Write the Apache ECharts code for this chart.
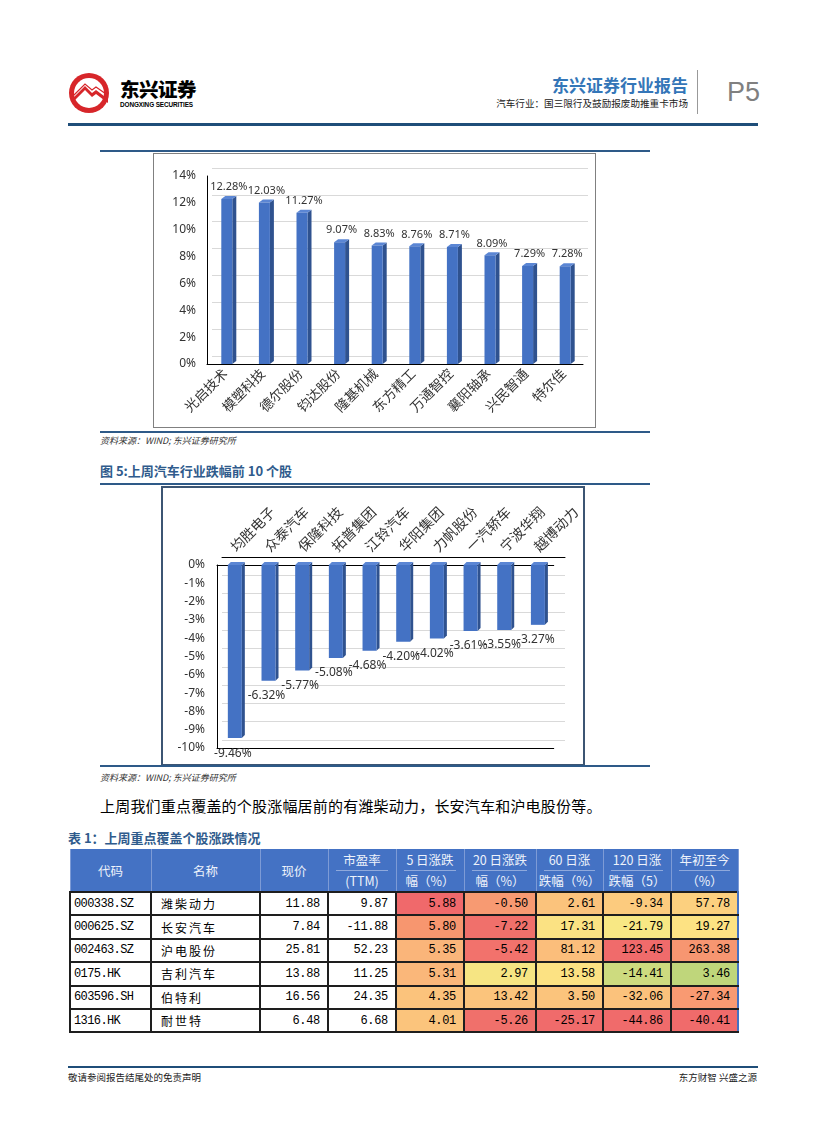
<!DOCTYPE html>
<html>
<head>
<meta charset="utf-8">
<script src="https://cdn.jsdelivr.net/npm/echarts@6/dist/echarts.min.js"></script>
<style>
  html,body{margin:0;padding:0;background:#fff;}
  body{width:827px;height:1122px;position:relative;overflow:hidden;font-family:'Noto Sans CJK SC','Noto Sans',sans-serif;color:#000;}
  .abs{position:absolute;white-space:nowrap;}
  .rule{position:absolute;background:#2e5a88;}
  .src{font-size:9px;font-style:italic;color:#333;line-height:12px;}
  .ttl{font-size:13px;font-weight:bold;color:#2f5b8c;line-height:16px;}
  table{border-collapse:collapse;table-layout:fixed;}
  th{background:#4472C4;color:#eef2fb;font-weight:normal;font-size:12.5px;padding:0;text-align:center;
     border-left:1px solid #7d9bd6;border-right:1px solid #7d9bd6;line-height:20px;}
  th.sub1{background:linear-gradient(#8fa9dc,#8fa9dc) no-repeat center bottom/78% 1px,#4472C4;}
  td{border:2px solid #1e1e1e;height:21.4px;padding:0;font-size:12px;}
  td.num{text-align:right;padding-right:7px;font-family:'Liberation Mono','DejaVu Sans Mono',monospace;letter-spacing:-0.3px;}
  td.code{text-align:left;padding-left:3px;font-family:'Liberation Mono','DejaVu Sans Mono',monospace;letter-spacing:-0.6px;}
  td.name{text-align:left;padding-left:9px;letter-spacing:2px;font-size:12px;}
</style>
</head>
<body>
<!-- header -->
<svg class="abs" style="left:68px;top:72px" width="44" height="44" viewBox="0 0 44 44">
  <circle cx="21" cy="21" r="20" fill="#d7262a"/>
  <circle cx="21" cy="21" r="15" fill="#fff"/>
  <path d="M4 27 L17 14 L24 21 L28 18 L40 27 L40 31 L28 22 L24 25 L17 18 L4 31 Z" fill="#d7262a"/>
  <path d="M6 23 L17 12 L24 18 L28 15 L38 22" stroke="#d7262a" stroke-width="1.2" fill="none"/>
</svg>
<div class="abs" style="left:120px;top:78px;font-size:19.5px;font-weight:900;line-height:22px;letter-spacing:-0.5px;">东兴证券</div>
<div class="abs" style="left:120px;top:101px;font-size:6.4px;font-weight:bold;line-height:8px;font-family:'Liberation Sans',sans-serif;letter-spacing:-0.1px;">DONGXING SECURITIES</div>
<div class="abs" style="right:139px;top:75px;font-size:17px;font-weight:bold;color:#3476b8;line-height:20px;">东兴证券行业报告</div>
<div class="abs" style="right:139px;top:97px;font-size:9.6px;line-height:12px;color:#222;">汽车行业：国三限行及鼓励报废助推重卡市场</div>
<div class="abs" style="left:697px;top:70px;width:1px;height:44px;background:#999;"></div>
<div class="abs" style="left:727px;top:76px;font-size:27px;line-height:32px;color:#808080;font-family:'Liberation Sans',sans-serif;">P5</div>
<div class="rule" style="left:68px;top:123px;width:690px;height:3px;background:#1f4e79;"></div>

<!-- figure 4 -->
<div class="rule" style="left:100px;top:150px;width:550px;height:2px;"></div>
<div id="c1" class="abs" style="left:153px;top:153px;width:443px;height:275px;border:1px solid #808080;box-sizing:border-box;"></div>
<div class="rule" style="left:100px;top:431px;width:550px;height:2px;"></div>
<div class="abs src" style="left:100px;top:435px;">资料来源：WIND; 东兴证券研究所</div>

<!-- figure 5 -->
<div class="abs ttl" style="left:100px;top:463px;">图 5:上周汽车行业跌幅前 10 个股</div>
<div class="rule" style="left:100px;top:483px;width:550px;height:2px;"></div>
<div id="c2" class="abs" style="left:161px;top:486px;width:424px;height:280px;border:2px solid #3c5573;box-sizing:border-box;"></div>
<div class="rule" style="left:100px;top:765px;width:550px;height:2px;"></div>
<div class="abs src" style="left:100px;top:772px;">资料来源：WIND; 东兴证券研究所</div>

<div class="abs" style="left:100px;top:796px;font-size:15px;line-height:20px;letter-spacing:0.2px;">上周我们重点覆盖的个股涨幅居前的有潍柴动力，长安汽车和沪电股份等。</div>

<div class="abs ttl" style="left:68px;top:830px;">表 1：上周重点覆盖个股涨跌情况</div>
<div id="tbl" class="abs" style="left:69px;top:849px;"></div>

<!-- footer -->
<div class="rule" style="left:68px;top:1066px;width:690px;height:2px;background:#1f4e79;"></div>
<div class="abs" style="left:68px;top:1071px;font-size:9.5px;line-height:12px;color:#222;">敬请参阅报告结尾处的免责声明</div>
<div class="abs" style="right:70px;top:1071px;font-size:9.5px;line-height:12px;color:#222;">东方财智 兴盛之源</div>

<script>
// ---------- data ----------
const cats1 = ['光启技术','模塑科技','德尔股份','钧达股份','隆基机械','东方精工','万通智控','襄阳轴承','兴民智通','特尔佳'];
const vals1 = [12.28, 12.03, 11.27, 9.07, 8.83, 8.76, 8.71, 8.09, 7.29, 7.28];
const yTicks1 = [0, 2, 4, 6, 8, 10, 12, 14];

const cats2 = ['均胜电子','众泰汽车','保隆科技','拓普集团','江铃汽车','华阳集团','力帆股份','一汽轿车','宁波华翔','越博动力'];
const vals2 = [-9.46, -6.32, -5.77, -5.08, -4.68, -4.20, -4.02, -3.61, -3.55, -3.27];
const yTicks2 = [0, -1, -2, -3, -4, -5, -6, -7, -8, -9, -10];

const headRow1 = ['代码','名称','现价','市盈率','5 日涨跌','20 日涨跌','60 日涨','120 日涨','年初至今'];
const headRow2 = ['(TTM)','幅（%）','幅（%）','跌幅（%）','跌幅（5）','（%）'];
const codes  = ['000338.SZ','000625.SZ','002463.SZ','0175.HK','603596.SH','1316.HK'];
const names  = ['潍柴动力','长安汽车','沪电股份','吉利汽车','伯特利','耐世特'];
const prices = ['11.88','7.84','25.81','13.88','16.56','6.48'];
const pes    = ['9.87','-11.88','52.23','11.25','24.35','6.68'];
const chg5   = ['5.88','5.80','5.35','5.31','4.35','4.01'];
const chg20  = ['-0.50','-7.22','-5.42','2.97','13.42','-5.26'];
const chg60  = ['2.61','17.31','81.12','13.58','3.50','-25.17'];
const chg120 = ['-9.34','-21.79','123.45','-14.41','-32.06','-44.86'];
const chgYtd = ['57.78','19.27','263.38','3.46','-27.34','-40.41'];

// conditional-format fills (style)
const cellFills = [
  ['#F0696B','#F79A72','#FBC37C','#FCCB7E','#FCD07F'],
  ['#F7966F','#F0706B','#FBE283','#F8E884','#FDE283'],
  ['#FAB57A','#F2726C','#FBBE7B','#F06B6B','#F79671'],
  ['#FAB77A','#F6E583','#FCE283','#CDDB7F','#BFD67B'],
  ['#FBC37C','#FBC47C','#FBC47C','#FBC27C','#F99A72'],
  ['#FBC47C','#F0706B','#F06B6B','#F06B6B','#F06B6B']
];

// ---------- table ----------
(function(){
  const widths = [81,109,68,68,68,72,67,68,67];
  let h = '<table><colgroup>' + widths.map(w=>'<col style="width:'+w+'px">').join('') + '</colgroup>';
  h += '<tr style="height:22px">';
  headRow1.forEach((t,i)=>{
    if(i<3) h += '<th rowspan="2" style="line-height:41px">'+t+'</th>';
    else h += '<th class="sub1">'+t+'</th>';
  });
  h += '</tr><tr style="height:21px">' + headRow2.map(t=>'<th>'+t+'</th>').join('') + '</tr>';
  for(let r=0;r<codes.length;r++){
    const chg=[chg5[r],chg20[r],chg60[r],chg120[r],chgYtd[r]];
    h += '<tr>';
    h += '<td class="code">'+codes[r]+'</td><td class="name">'+names[r]+'</td>';
    h += '<td class="num">'+prices[r]+'</td><td class="num">'+pes[r]+'</td>';
    chg.forEach((v,c)=>{
      const extra = c===4 ? 'border-right:2px solid #4472C4;' : '';
      h += '<td class="num" style="background:'+cellFills[r][c]+';'+extra+'">'+v+'</td>';
    });
    h += '</tr>';
  }
  h += '</table>';
  document.getElementById('tbl').innerHTML = h;
})();

// ---------- charts ----------
const FONT = "'Noto Sans','Noto Sans CJK SC',sans-serif";
const pct = v => v + '%';

function makeBar3D(opt){
  return function(params, api){
    const i = api.value(0), v = api.value(1);
    const p0 = api.coord([i, 0]);
    const p1 = api.coord([i, v]);
    const w = opt.w, d = opt.d, dy = opt.dy;
    const x0 = p0[0] - w/2 + opt.shift, x1 = x0 + w;
    const yTop = Math.min(p0[1], p1[1]), yBot = Math.max(p0[1], p1[1]);
    const label = v.toFixed(2) + '%';
    const lx = p0[0] + opt.lx;
    const ly = v >= 0 ? yTop + opt.ly : yBot + opt.ly;
    return {type:'group', children:[
      {type:'polygon', shape:{points:[[x1,yTop],[x1+d,yTop-dy],[x1+d,yBot-dy],[x1,yBot]]}, style:{fill:'#2F528F'}},
      {type:'polygon', shape:{points:[[x0,yTop],[x0+d,yTop-dy],[x1+d,yTop-dy],[x1,yTop]]}, style:{fill:'#5B86D4'}},
      {type:'rect', shape:{x:x0, y:yTop, width:w, height:yBot-yTop}, style:{fill:'#4472C4'}},
      {type:'text', z2:10, style:{text:label, x:lx, y:ly, fill:'#333', fontSize:opt.fs, fontFamily:FONT, align:'center', verticalAlign:'middle'}}
    ]};
  };
}

const c1 = echarts.init(document.getElementById('c1'));
c1.setOption({
  animation:false,
  textStyle:{fontFamily:FONT},
  grid:[{left:53, top:22, width:376, height:188}, {left:58, top:14, width:376, height:188}],
  xAxis:[
    {gridIndex:0, type:'category', data:cats1, axisLine:{lineStyle:{color:'#000', width:1}}, axisTick:{show:false},
     axisLabel:{rotate:45, interval:0, fontSize:13.5, color:'#333', margin:8, fontFamily:FONT}},
    {gridIndex:1, type:'category', data:cats1, show:false}
  ],
  yAxis:[
    {gridIndex:0, type:'value', min:yTicks1[0], max:yTicks1[yTicks1.length-1], interval:yTicks1[1]-yTicks1[0],
     axisLine:{show:true, lineStyle:{color:'#000', width:1}}, axisTick:{show:false}, splitLine:{show:false},
     axisLabel:{formatter:pct, fontSize:12, color:'#333', margin:11}},
    {gridIndex:1, type:'value', min:yTicks1[0], max:yTicks1[yTicks1.length-1], interval:yTicks1[1]-yTicks1[0],
     axisLine:{show:false}, axisTick:{show:false}, axisLabel:{show:false}, splitLine:{lineStyle:{color:'#d9d9d9'}}}
  ],
  series:[{type:'custom', xAxisIndex:0, yAxisIndex:0, z:5,
    renderItem:makeBar3D({w:11, d:4, dy:3, shift:1, lx:3, ly:-12, fs:11}),
    data:vals1.map((v,i)=>[i,v])}]
});

const c2 = echarts.init(document.getElementById('c2'));
c2.setOption({
  animation:false,
  textStyle:{fontFamily:FONT},
  grid:[{left:54, top:77, width:348, height:183}, {left:59, top:69, width:343, height:183}],
  xAxis:[
    {gridIndex:0, type:'category', position:'top', data:cats2, axisLine:{lineStyle:{color:'#000', width:1}}, axisTick:{show:false},
     axisLabel:{rotate:45, interval:0, fontSize:14, color:'#333', margin:15, fontFamily:FONT}},
    {gridIndex:0, type:'category', position:'bottom', data:cats2, axisLine:{show:true, lineStyle:{color:'#000', width:1}},
     axisTick:{show:false}, axisLabel:{show:false}},
    {gridIndex:1, type:'category', position:'top', data:cats2, axisLine:{show:true, lineStyle:{color:'#000', width:1}},
     axisTick:{show:false}, axisLabel:{show:false}}
  ],
  yAxis:[
    {gridIndex:0, type:'value', min:yTicks2[yTicks2.length-1], max:yTicks2[0], interval:1,
     axisLine:{show:true, lineStyle:{color:'#000', width:1}}, axisTick:{show:false}, splitLine:{show:false},
     axisLabel:{formatter:pct, fontSize:12, color:'#333', margin:12}},
    {gridIndex:1, type:'value', min:yTicks2[yTicks2.length-1], max:yTicks2[0], interval:1,
     axisLine:{show:false}, axisTick:{show:false}, axisLabel:{show:false}, splitLine:{lineStyle:{color:'#d9d9d9'}}}
  ],
  series:[{type:'custom', xAxisIndex:0, yAxisIndex:0, z:5,
    renderItem:makeBar3D({w:14, d:3, dy:3, shift:1, lx:-1, ly:15, fs:12}),
    data:vals2.map((v,i)=>[i,v])}]
});
</script>
</body>
</html>
